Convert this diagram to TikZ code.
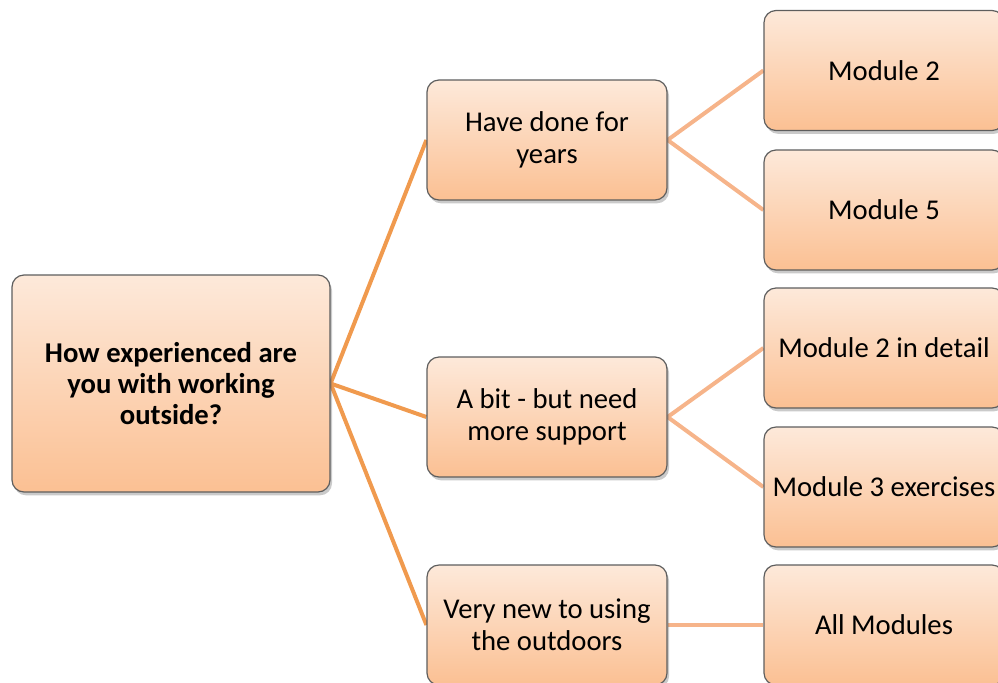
\documentclass[tikz,border=0pt]{standalone}
\usepackage{fontspec}
\setmainfont{Carlito}
\usetikzlibrary{shadows,backgrounds}
\definecolor{boxtop}{HTML}{FDE9DA}
\definecolor{boxbot}{HTML}{FBC093}
\definecolor{boxedge}{HTML}{5E5E5E}
\definecolor{linkA}{HTML}{F09A4E}
\definecolor{linkB}{HTML}{F6B48A}
\tikzset{
  box/.style={draw=boxedge, line width=0.9pt, rounded corners=9pt,
    top color=boxtop, bottom color=boxbot, align=center, inner sep=0pt,
    font=\fontsize{21.5}{24}\selectfont, text=black,
    drop shadow={shadow xshift=1.5pt, shadow yshift=-2.5pt, opacity=0.35, fill=black!60}},
  midbox/.style={box, minimum width=180pt, minimum height=90pt},
  rootbox/.style={box, minimum width=238.5pt, minimum height=162.75pt,
    font=\fontsize{21.5}{23}\selectfont\bfseries},
  linkone/.style={draw=linkA, line width=3pt},
  linktwo/.style={draw=linkB, line width=3pt}
}
\begin{document}
\begin{tikzpicture}[x=0.75pt, y=-0.75pt]
\useasboundingbox (0,0) rectangle (998,682);
\clip (0,0) rectangle (998,682);
\node[rootbox] (root) at (171,383.5) {How experienced are\\you with working\\outside?};
\node[midbox] (a) at (547,140) {Have done for\\years};
\node[midbox] (b) at (547,417) {A bit - but need\\more support};
\node[midbox] (c) at (547,625) {Very new to using\\the outdoors};
\node[midbox] (m2) at (884,70.5) {Module 2};
\node[midbox] (m5) at (884,210) {Module 5};
\node[midbox] (m2d) at (884,348) {Module 2 in detail};
\node[midbox] (m3) at (884,487) {Module 3 exercises};
\node[midbox] (all) at (884,625) {All Modules};
\begin{scope}[on background layer]
\draw[linkone] (root.east) -- (a.west);
\draw[linkone] (root.east) -- (b.west);
\draw[linkone] (root.east) -- (c.west);
\draw[linktwo] (a.east) -- (m2.west);
\draw[linktwo] (a.east) -- (m5.west);
\draw[linktwo] (b.east) -- (m2d.west);
\draw[linktwo] (b.east) -- (m3.west);
\draw[linktwo] (c.east) -- (all.west);
\end{scope}
\end{tikzpicture}
\end{document}
